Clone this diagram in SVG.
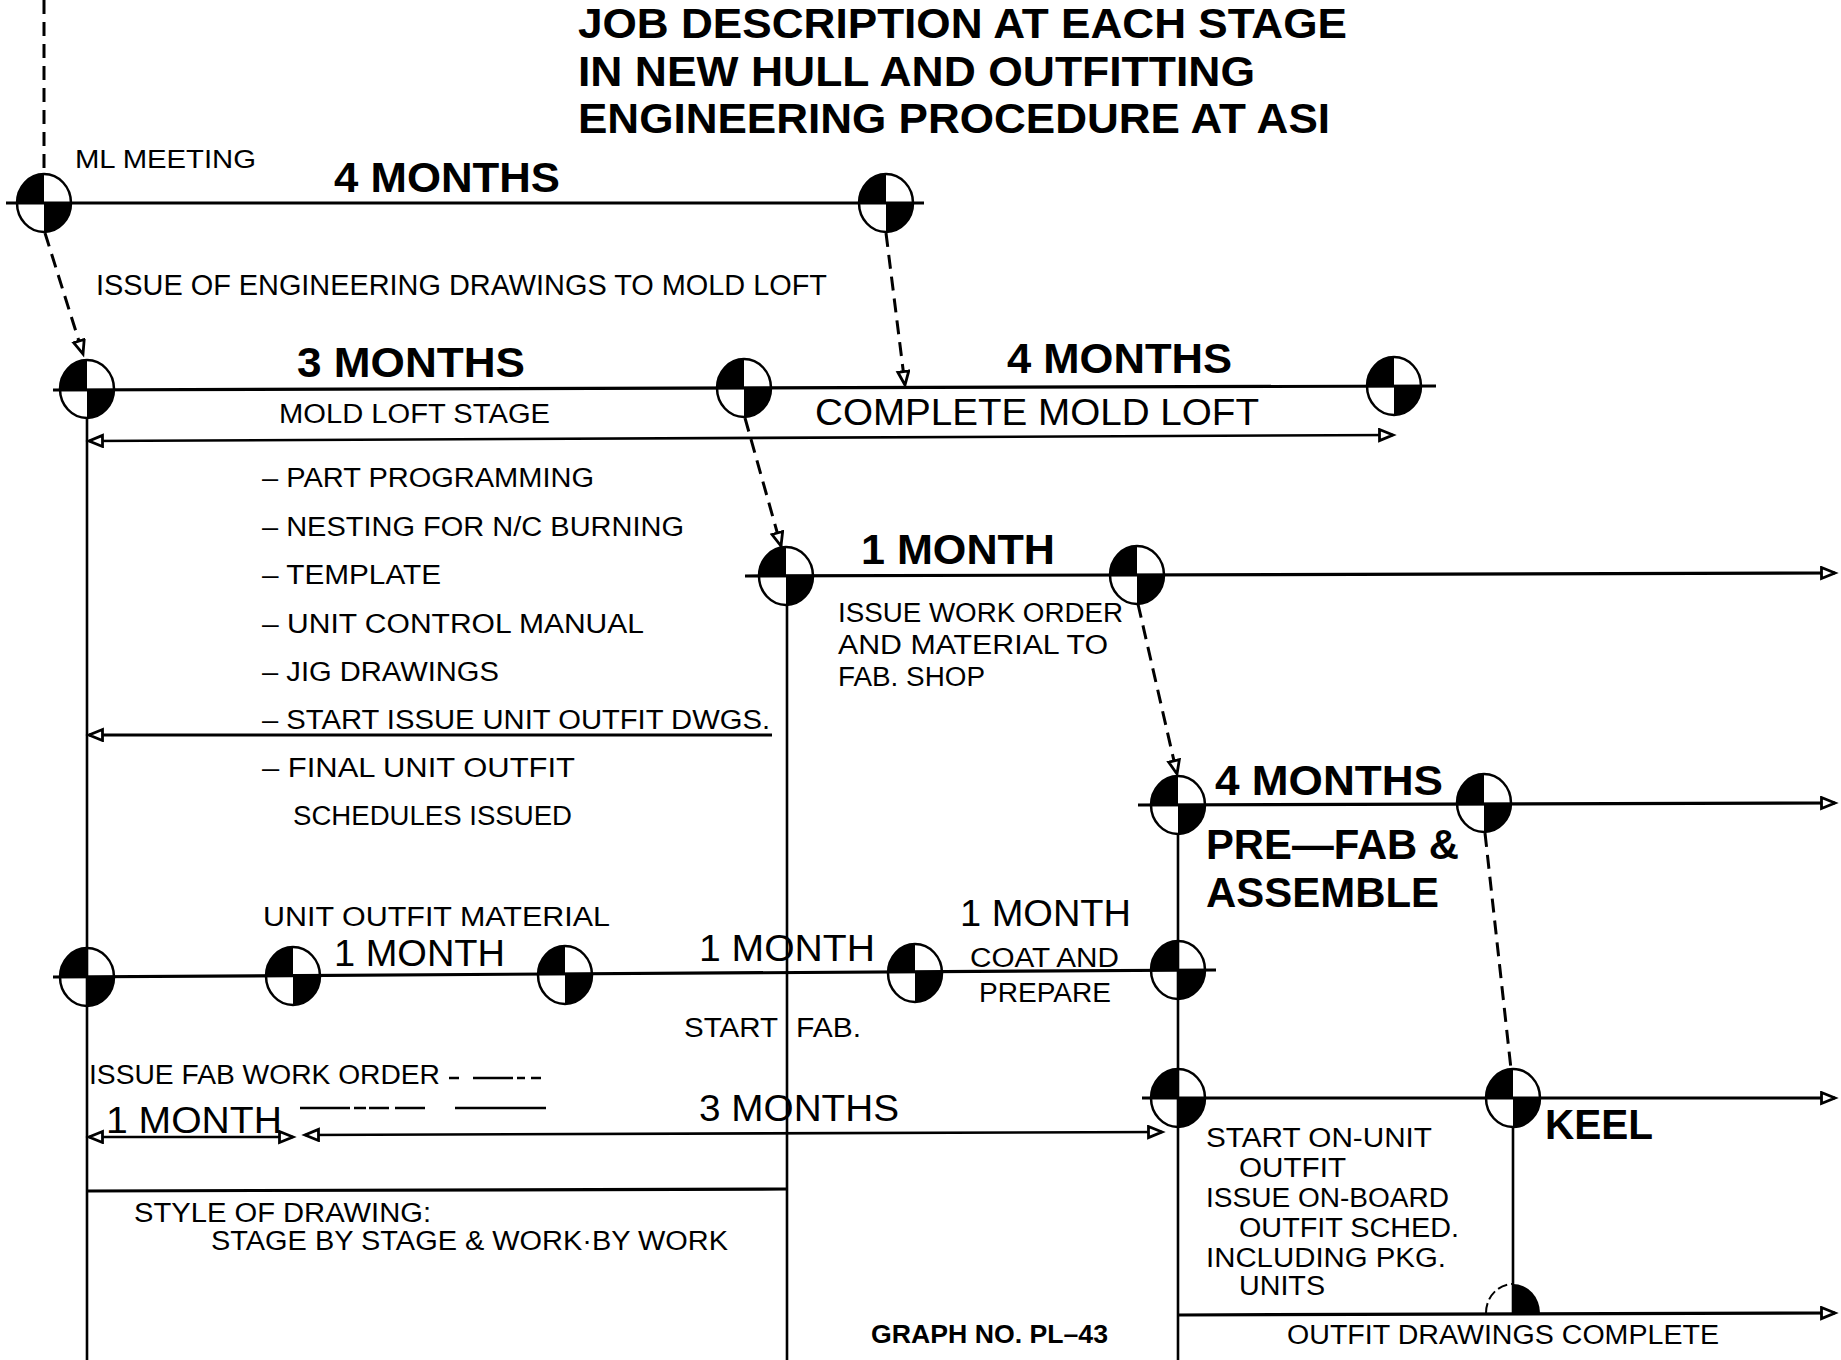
<svg xmlns="http://www.w3.org/2000/svg" xmlns:xlink="http://www.w3.org/1999/xlink" width="1841" height="1360" viewBox="0 0 1841 1360">
<style>
text{font-family:"Liberation Sans",Arial,sans-serif;fill:#000}
.m{font-size:27px}
.l{font-size:37px}
.b{font-size:42px;font-weight:bold}
.ti{font-size:42px;font-weight:bold}
.g{font-size:26px;font-weight:bold}
.ln{stroke:#000;stroke-width:3.2;fill:none}
.thin{stroke:#000;stroke-width:2.6;fill:none}
.dash{stroke:#000;stroke-width:3;fill:none;stroke-dasharray:14 8}
</style>
<defs>
<marker id="arr" markerUnits="userSpaceOnUse" markerWidth="20" markerHeight="18" refX="15" refY="7" orient="auto-start-reverse">
<path d="M1.5,1.5 L15,7 L1.5,12.5 Z" fill="#fff" stroke="#000" stroke-width="2.8"/>
</marker>
<g id="ms">
<ellipse cx="0" cy="0" rx="27" ry="29" fill="none" stroke="#000" stroke-width="2.5"/>
<path d="M0,0 H-27 A27,29 0 0 1 0,-29 Z" fill="#000"/>
<path d="M0,0 H27 A27,29 0 0 1 0,29 Z" fill="#000"/>
</g>
</defs>
<rect width="1841" height="1360" fill="#fff"/>

<g id="title">
<text class="ti" x="578" y="38" textLength="769" lengthAdjust="spacingAndGlyphs">JOB DESCRIPTION AT EACH STAGE</text>
<text class="ti" x="578" y="86" textLength="677" lengthAdjust="spacingAndGlyphs">IN NEW HULL AND OUTFITTING</text>
<text class="ti" x="578" y="133" textLength="752" lengthAdjust="spacingAndGlyphs">ENGINEERING PROCEDURE AT ASI</text>
</g>

<g id="connectors">
<line class="dash" x1="44" y1="0" x2="44" y2="174"/>
<line class="ln" x1="6" y1="203" x2="924" y2="203"/>
<line class="dash" x1="45" y1="233" x2="83" y2="354" marker-end="url(#arr)"/>
<line class="dash" x1="886" y1="233" x2="905" y2="385" marker-end="url(#arr)"/>
<line class="ln" x1="53" y1="390" x2="1436" y2="386"/>
<line class="thin" x1="89" y1="441" x2="1393" y2="435" marker-start="url(#arr)" marker-end="url(#arr)"/>
<line class="thin" x1="87" y1="418" x2="87" y2="1360"/>
<line class="dash" x1="745" y1="418" x2="781" y2="546" marker-end="url(#arr)"/>
<line class="ln" x1="772" y1="735" x2="89" y2="735" marker-end="url(#arr)"/>
<line class="ln" x1="745" y1="576" x2="1835" y2="573" marker-end="url(#arr)"/>
<line class="thin" x1="787" y1="605" x2="787" y2="1360"/>
<line class="dash" x1="1138" y1="604" x2="1177" y2="774" marker-end="url(#arr)"/>
<line class="ln" x1="1138" y1="805" x2="1835" y2="803" marker-end="url(#arr)"/>
<line class="thin" x1="1178" y1="834" x2="1178" y2="1360"/>
<line class="dash" x1="1485" y1="833" x2="1511" y2="1069"/>
<line class="ln" x1="53" y1="977" x2="1216" y2="970"/>
<line class="ln" x1="1142" y1="1098" x2="1835" y2="1098" marker-end="url(#arr)"/>
<line class="thin" x1="89" y1="1137" x2="293" y2="1137" marker-start="url(#arr)" marker-end="url(#arr)"/>
<line class="thin" x1="305" y1="1135" x2="1162" y2="1132" marker-start="url(#arr)" marker-end="url(#arr)"/>
<line class="thin" x1="449" y1="1078" x2="549" y2="1078" stroke-dasharray="10 14 40 4 8 6"/>
<line class="thin" x1="300" y1="1108" x2="546" y2="1108" stroke-dasharray="50 4 12 3 20 6 30 30 60 0"/>
<line class="ln" x1="87" y1="1191" x2="787" y2="1189"/>
<line class="thin" x1="1513" y1="1127" x2="1513" y2="1313"/>
<line class="ln" x1="1178" y1="1315" x2="1835" y2="1313" marker-end="url(#arr)"/>
</g>

<g id="ms-ml-meeting"><use xlink:href="#ms" x="44" y="203"/></g>
<g id="ms-eng-drawings-done"><use xlink:href="#ms" x="886" y="203"/></g>
<g id="ms-mold-loft-start"><use xlink:href="#ms" x="87" y="389"/></g>
<g id="ms-mold-loft-stage-end"><use xlink:href="#ms" x="744" y="388"/></g>
<g id="ms-complete-mold-loft"><use xlink:href="#ms" x="1394" y="386"/></g>
<g id="ms-fab-start"><use xlink:href="#ms" x="786" y="576"/></g>
<g id="ms-work-order-issued"><use xlink:href="#ms" x="1137" y="575"/></g>
<g id="ms-prefab-start"><use xlink:href="#ms" x="1178" y="805"/></g>
<g id="ms-prefab-end"><use xlink:href="#ms" x="1484" y="803"/></g>
<g id="ms-unit-outfit-1"><use xlink:href="#ms" x="87" y="977"/></g>
<g id="ms-unit-outfit-2"><use xlink:href="#ms" x="293" y="976"/></g>
<g id="ms-unit-outfit-3"><use xlink:href="#ms" x="565" y="975"/></g>
<g id="ms-coat-start"><use xlink:href="#ms" x="915" y="973"/></g>
<g id="ms-coat-end"><use xlink:href="#ms" x="1178" y="970"/></g>
<g id="ms-on-unit-start"><use xlink:href="#ms" x="1178" y="1098"/></g>
<g id="ms-keel"><use xlink:href="#ms" x="1513" y="1098"/></g>
<g id="ms-outfit-complete">
<path d="M1486,1313 A27,29 0 0 1 1513,1284" fill="none" stroke="#000" stroke-width="2" stroke-dasharray="10 4"/>
<path d="M1513,1313 V1284 A27,29 0 0 1 1540,1313 Z" fill="#000"/>
</g>

<g id="labels">
<text class="m" x="75" y="168" textLength="181" lengthAdjust="spacingAndGlyphs" style="font-size:25px">ML MEETING</text>
<text class="b" x="334" y="192" textLength="226" lengthAdjust="spacingAndGlyphs">4 MONTHS</text>
<text class="m" x="96" y="295" textLength="731" lengthAdjust="spacingAndGlyphs" style="font-size:29px">ISSUE OF ENGINEERING DRAWINGS TO MOLD LOFT</text>
<text class="b" x="297" y="377" textLength="228" lengthAdjust="spacingAndGlyphs">3 MONTHS</text>
<text class="m" x="279" y="423" textLength="271" lengthAdjust="spacingAndGlyphs">MOLD LOFT STAGE</text>
<text class="b" x="1007" y="373" textLength="225" lengthAdjust="spacingAndGlyphs">4 MONTHS</text>
<text class="m" x="815" y="425" textLength="444" lengthAdjust="spacingAndGlyphs" style="font-size:36px">COMPLETE MOLD LOFT</text>

<text class="m" x="262" y="487" textLength="332" lengthAdjust="spacingAndGlyphs">– PART PROGRAMMING</text>
<text class="m" x="262" y="536" textLength="422" lengthAdjust="spacingAndGlyphs">– NESTING FOR N/C BURNING</text>
<text class="m" x="262" y="584" textLength="179" lengthAdjust="spacingAndGlyphs">– TEMPLATE</text>
<text class="m" x="262" y="633" textLength="382" lengthAdjust="spacingAndGlyphs">– UNIT CONTROL MANUAL</text>
<text class="m" x="262" y="681" textLength="237" lengthAdjust="spacingAndGlyphs">– JIG DRAWINGS</text>
<text class="m" x="262" y="729" textLength="508" lengthAdjust="spacingAndGlyphs">– START ISSUE UNIT OUTFIT DWGS.</text>
<text class="m" x="262" y="777" textLength="313" lengthAdjust="spacingAndGlyphs">– FINAL UNIT OUTFIT</text>
<text class="m" x="293" y="825" textLength="279" lengthAdjust="spacingAndGlyphs">SCHEDULES ISSUED</text>

<text class="b" x="861" y="564" textLength="194" lengthAdjust="spacingAndGlyphs">1 MONTH</text>
<text class="m" x="838" y="622" textLength="285" lengthAdjust="spacingAndGlyphs">ISSUE WORK ORDER</text>
<text class="m" x="838" y="654" textLength="270" lengthAdjust="spacingAndGlyphs">AND MATERIAL TO</text>
<text class="m" x="838" y="686" textLength="147" lengthAdjust="spacingAndGlyphs">FAB. SHOP</text>

<text class="b" x="1215" y="795" textLength="228" lengthAdjust="spacingAndGlyphs">4 MONTHS</text>
<text class="b" x="1206" y="859" textLength="253" lengthAdjust="spacingAndGlyphs">PRE—FAB &amp;</text>
<text class="b" x="1206" y="907" textLength="233" lengthAdjust="spacingAndGlyphs">ASSEMBLE</text>

<text class="m" x="263" y="926" textLength="347" lengthAdjust="spacingAndGlyphs">UNIT OUTFIT MATERIAL</text>
<text class="l" x="334" y="966" textLength="171" lengthAdjust="spacingAndGlyphs">1 MONTH</text>
<text class="l" x="699" y="961" textLength="176" lengthAdjust="spacingAndGlyphs">1 MONTH</text>
<text class="l" x="960" y="926" textLength="171" lengthAdjust="spacingAndGlyphs">1 MONTH</text>
<text class="m" x="970" y="967" textLength="149" lengthAdjust="spacingAndGlyphs">COAT AND</text>
<text class="m" x="979" y="1002" textLength="132" lengthAdjust="spacingAndGlyphs">PREPARE</text>
<text class="m" y="1037"><tspan x="684" textLength="94" lengthAdjust="spacingAndGlyphs">START</tspan><tspan x="796" textLength="65" lengthAdjust="spacingAndGlyphs">FAB.</tspan></text>

<text class="m" x="89" y="1084" textLength="351" lengthAdjust="spacingAndGlyphs">ISSUE FAB WORK ORDER</text>
<text class="l" x="106" y="1133" textLength="176" lengthAdjust="spacingAndGlyphs">1 MONTH</text>
<text class="l" x="699" y="1121" textLength="200" lengthAdjust="spacingAndGlyphs">3 MONTHS</text>
<text class="m" x="134" y="1222" textLength="297" lengthAdjust="spacingAndGlyphs">STYLE OF DRAWING:</text>
<text class="m" x="211" y="1250" textLength="517" lengthAdjust="spacingAndGlyphs">STAGE BY STAGE &amp; WORK·BY WORK</text>

<text class="b" x="1545" y="1139" textLength="108" lengthAdjust="spacingAndGlyphs">KEEL</text>
<text class="m" x="1206" y="1147" textLength="226" lengthAdjust="spacingAndGlyphs">START ON-UNIT</text>
<text class="m" x="1239" y="1177" textLength="107" lengthAdjust="spacingAndGlyphs">OUTFIT</text>
<text class="m" x="1206" y="1207" textLength="243" lengthAdjust="spacingAndGlyphs">ISSUE ON-BOARD</text>
<text class="m" x="1239" y="1237" textLength="220" lengthAdjust="spacingAndGlyphs">OUTFIT SCHED.</text>
<text class="m" x="1206" y="1267" textLength="240" lengthAdjust="spacingAndGlyphs">INCLUDING PKG.</text>
<text class="m" x="1239" y="1295" textLength="86" lengthAdjust="spacingAndGlyphs">UNITS</text>
<text class="m" x="1287" y="1344" textLength="432" lengthAdjust="spacingAndGlyphs">OUTFIT DRAWINGS COMPLETE</text>
<text class="g" x="871" y="1343" textLength="237" lengthAdjust="spacingAndGlyphs">GRAPH NO. PL–43</text>
</g>
</svg>
